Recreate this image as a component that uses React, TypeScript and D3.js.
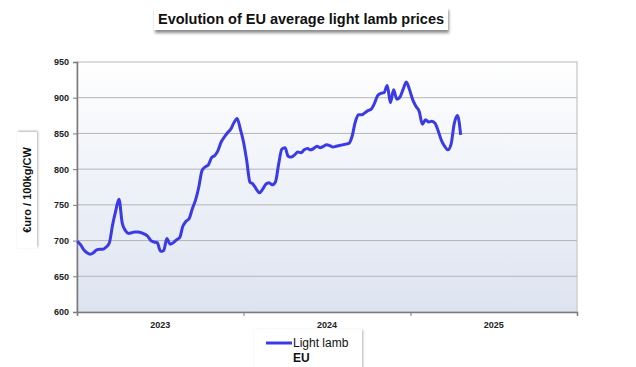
import React, { useEffect, useRef } from 'react';
import * as d3 from 'd3';

// weekly EU light lamb prices, starting first week of 2023 (€/100kg carcass weight)
const prices = [
  699, 694, 687, 683, 681, 683, 687, 688, 688, 691,
  697, 722, 742, 758, 725, 714, 710, 711, 712, 712,
  711, 709, 706, 700, 698, 697, 685, 686, 703, 695,
  697, 701, 704, 720, 727, 731, 745, 757, 775, 798,
  803, 806, 816, 819, 826, 838, 845, 851, 856, 865,
  871, 856, 838, 812, 782, 779, 772, 767, 772, 779,
  781, 778, 782, 807, 828, 830, 818, 817, 820, 824,
  823, 827, 829, 827, 829, 832, 830, 832, 834, 833,
  831, 832, 833, 834, 835, 836, 846, 866, 876, 876,
  879, 882, 884, 892, 903, 906, 907, 917, 893, 911,
  898, 901, 912, 922, 911, 897, 888, 881, 863, 869,
  866, 867, 864, 853, 840, 832, 827, 835, 864, 875,
  848,
];
const years = [2023, 2024, 2025];
const yTicks = [600, 650, 700, 750, 800, 850, 900, 950];
const seriesName = ['Light lamb', 'EU'];

const W = 636, H = 367;
const M = { left: 77, right: 577, top: 62, bottom: 312 };

const App: React.FC = () => {
  const svgRef = useRef<SVGSVGElement>(null);

  useEffect(() => {
    if (!svgRef.current) return;
    const svg = d3.select(svgRef.current);
    svg.selectAll('*').remove();

    const start = new Date(2023, 0, 1);
    const data = prices.map((v, i) => ({ date: d3.timeDay.offset(start, i * 7 + 1), v }));

    const x = d3.scaleTime()
      .domain([new Date(years[0], 0, 1), new Date(years[years.length - 1] + 1, 0, 1)])
      .range([M.left, M.right]);
    const y = d3.scaleLinear().domain([600, 950]).range([M.bottom, M.top]);

    const defs = svg.append('defs');
    const grad = defs.append('linearGradient').attr('id', 'bg').attr('x1', 0).attr('y1', 0).attr('x2', 0).attr('y2', 1);
    grad.append('stop').attr('offset', '0%').attr('stop-color', '#ffffff');
    grad.append('stop').attr('offset', '100%').attr('stop-color', '#dde4f1');
    const sh = defs.append('filter').attr('id', 'shadow').attr('x', '-10%').attr('y', '-20%').attr('width', '120%').attr('height', '160%');
    sh.append('feDropShadow').attr('dx', 1).attr('dy', 3).attr('stdDeviation', 1.5).attr('flood-color', '#000').attr('flood-opacity', 0.45);
    const sh2 = defs.append('filter').attr('id', 'shadow2').attr('x', '-20%').attr('y', '-20%').attr('width', '140%').attr('height', '140%');
    sh2.append('feDropShadow').attr('dx', 1).attr('dy', 1).attr('stdDeviation', 1.2).attr('flood-color', '#000').attr('flood-opacity', 0.3);

    // plot area
    svg.append('rect')
      .attr('x', M.left).attr('y', M.top)
      .attr('width', M.right - M.left).attr('height', M.bottom - M.top)
      .attr('fill', 'url(#bg)').attr('stroke', '#d0d0d0').attr('stroke-width', 1.5);

    // gridlines
    svg.append('g').selectAll('line')
      .data(yTicks.slice(1, -1))
      .enter().append('line')
      .attr('x1', M.left).attr('x2', M.right)
      .attr('y1', d => y(d)).attr('y2', d => y(d))
      .attr('stroke', '#b4b4b4').attr('stroke-width', 1);

    // y axis
    const ya = svg.append('g').attr('transform', `translate(${M.left},0)`)
      .call(d3.axisLeft(y).tickValues(yTicks).tickSize(4).tickPadding(4));
    ya.select('.domain').attr('stroke', '#7a7a7a').attr('stroke-width', 1.5);
    ya.selectAll('.tick line').attr('stroke', '#7a7a7a');
    ya.selectAll('text').attr('font-family', 'Liberation Sans, Arial, sans-serif')
      .attr('font-size', 9).attr('font-weight', 'bold').attr('fill', '#222');

    // x axis
    const xTicks = d3.range(years[0], years[years.length - 1] + 2).map(yr => new Date(yr, 0, 1));
    const xa = svg.append('g').attr('transform', `translate(0,${M.bottom})`)
      .call(d3.axisBottom(x).tickValues(xTicks).tickSize(4).tickFormat(() => ''));
    xa.select('.domain').attr('stroke', '#7a7a7a').attr('stroke-width', 1.5);
    xa.selectAll('.tick line').attr('stroke', '#7a7a7a');
    svg.append('g').selectAll('text')
      .data(years)
      .enter().append('text')
      .attr('x', d => (x(new Date(d, 0, 1)) + x(new Date(d + 1, 0, 1))) / 2)
      .attr('y', M.bottom + 16)
      .attr('text-anchor', 'middle')
      .attr('font-family', 'Liberation Sans, Arial, sans-serif')
      .attr('font-size', 9).attr('font-weight', 'bold').attr('fill', '#222')
      .text(d => d);

    // line
    const line = d3.line<{ date: Date; v: number }>()
      .x(d => x(d.date)).y(d => y(d.v))
      .curve(d3.curveMonotoneX);
    svg.append('path')
      .datum(data)
      .attr('d', line)
      .attr('fill', 'none')
      .attr('stroke', '#3a3ae6')
      .attr('stroke-width', 3)
      .attr('stroke-linejoin', 'round');

    // title
    const tg = svg.append('g');
    tg.append('rect').attr('x', 154).attr('y', 7).attr('width', 294).attr('height', 23)
      .attr('fill', '#fff').attr('filter', 'url(#shadow)');
    tg.append('text').attr('x', 301).attr('y', 24).attr('text-anchor', 'middle')
      .attr('font-family', 'Liberation Sans, Arial, sans-serif')
      .attr('font-size', 14.5).attr('font-weight', 'bold').attr('fill', '#111')
      .text('Evolution of EU average light lamb prices');

    // y label
    const yl = svg.append('g').attr('transform', 'translate(27,190) rotate(-90)');
    yl.append('rect').attr('x', -58).attr('y', -10).attr('width', 116).attr('height', 20)
      .attr('fill', '#fff').attr('filter', 'url(#shadow2)');
    yl.append('text').attr('x', 0).attr('y', 4).attr('text-anchor', 'middle')
      .attr('font-family', 'Liberation Sans, Arial, sans-serif')
      .attr('font-size', 11).attr('font-weight', 'bold').attr('fill', '#111')
      .text('€uro / 100kg/CW');

    // legend
    const lg = svg.append('g');
    lg.append('rect').attr('x', 254).attr('y', 329).attr('width', 108).attr('height', 38)
      .attr('fill', '#fff').attr('filter', 'url(#shadow2)');
    lg.append('line').attr('x1', 266).attr('x2', 292).attr('y1', 343).attr('y2', 343)
      .attr('stroke', '#3a3ae6').attr('stroke-width', 3);
    lg.append('text').attr('x', 293).attr('y', 347)
      .attr('font-family', 'Liberation Sans, Arial, sans-serif')
      .attr('font-size', 12).attr('fill', '#111')
      .text(seriesName[0]);
    lg.append('text').attr('x', 293).attr('y', 362)
      .attr('font-family', 'Liberation Sans, Arial, sans-serif')
      .attr('font-size', 12).attr('font-weight', 'bold').attr('fill', '#111')
      .text(seriesName[1]);
  }, []);

  return (
    <div style={{ position: 'absolute', left: 0, top: 0, width: W, height: H, background: '#fff' }}>
      <svg ref={svgRef} width={W} height={H} />
    </div>
  );
};

export default App;
